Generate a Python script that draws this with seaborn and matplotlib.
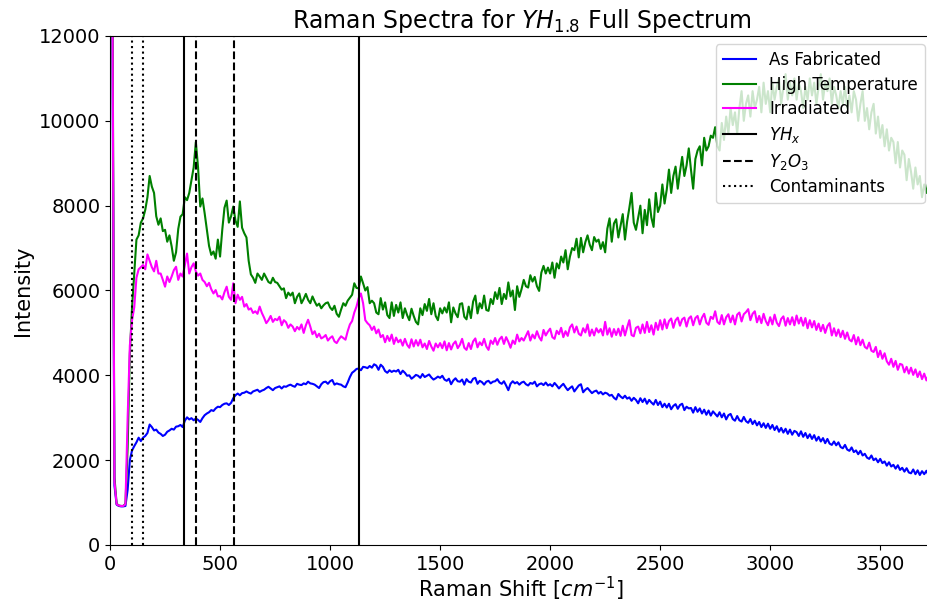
import numpy as np
import pandas as pd
import seaborn as sns
import matplotlib
matplotlib.use("Agg")
import matplotlib.pyplot as plt

# Raman shift grid [cm^-1]
shift = np.arange(0, 3750, 10)

as_fabricated = [
    30000, 13000, 1400, 950, 920, 910, 910, 920, 1300, 2000,
    2230, 2330, 2420, 2530, 2450, 2530, 2570, 2640, 2840, 2780,
    2700, 2720, 2650, 2620, 2570, 2600, 2670, 2700, 2740, 2720,
    2790, 2800, 2830, 2780, 2930, 3010, 2960, 2990, 2940, 2980,
    2950, 2900, 2990, 3060, 3100, 3130, 3180, 3160, 3220, 3260,
    3250, 3300, 3330, 3340, 3300, 3350, 3460, 3530, 3570, 3530,
    3580, 3590, 3620, 3590, 3570, 3620, 3640, 3660, 3610, 3640,
    3660, 3700, 3730, 3690, 3650, 3700, 3720, 3740, 3690, 3740,
    3730, 3760, 3780, 3750, 3730, 3800, 3780, 3770, 3810, 3790,
    3850, 3810, 3800, 3780, 3740, 3700, 3790, 3840, 3850, 3800,
    3860, 3890, 3780, 3810, 3790, 3780, 3740, 3720, 3830, 3960,
    4060, 4100, 4150, 4160, 4120, 4200, 4190, 4170, 4220, 4180,
    4260, 4230, 4130, 4250, 4200, 4100, 4060, 4120, 4080, 4110,
    4090, 4130, 4030, 4110, 4060, 3990, 4000, 3920, 3960, 4010,
    3990, 3940, 4030, 3960, 3990, 4020, 3950, 3900, 3930, 3970,
    3940, 3990, 3900, 3870, 3920, 3790, 3880, 3930, 3860, 3850,
    3900, 3780, 3910, 3850, 3830, 3920, 3940, 3800, 3870, 3840,
    3780, 3850, 3870, 3810, 3850, 3860, 3910, 3830, 3800, 3860,
    3760, 3650, 3800, 3860, 3810, 3840, 3780, 3830, 3850, 3790,
    3760, 3820, 3800, 3850, 3740, 3790, 3810, 3770, 3830, 3760,
    3790, 3740, 3820, 3760, 3690, 3750, 3800, 3720, 3650, 3700,
    3740, 3620, 3690, 3760, 3790, 3600, 3660, 3700, 3640, 3580,
    3620, 3640, 3570, 3610, 3550, 3590, 3570, 3520, 3540, 3470,
    3430, 3560, 3500, 3460, 3520, 3450, 3480, 3400, 3470, 3420,
    3340, 3460, 3370, 3450, 3330, 3420, 3360, 3310, 3420, 3300,
    3380, 3250, 3330, 3240, 3330, 3200, 3280, 3320, 3210, 3300,
    3330, 3180, 3260, 3220, 3230, 3120, 3250, 3140, 3220, 3100,
    3190, 3070, 3170, 3050, 3150, 3090, 3030, 3130, 3010, 3100,
    2960, 3060, 3090, 2970, 2930, 3040, 2940, 2910, 3020, 2920,
    2880, 2970, 2850, 2930, 2820, 2900, 2780, 2870, 2760, 2860,
    2740, 2830, 2710, 2800, 2670, 2760, 2650, 2740, 2620, 2720,
    2600, 2690, 2660, 2570, 2680, 2550, 2640, 2520, 2610, 2500,
    2590, 2460, 2550, 2440, 2520, 2400, 2500, 2390, 2360, 2440,
    2350, 2420, 2310, 2280, 2360, 2250, 2220, 2300, 2190, 2230,
    2140, 2220, 2110, 2150, 2060, 2030, 2110, 2000, 2040, 1950,
    2030, 1930, 1970, 1870, 1950, 1850, 1890, 1800, 1880, 1770,
    1820, 1730, 1810, 1710, 1690, 1780, 1670, 1760, 1650, 1740,
    1670, 1750, 1640, 1720, 1650,
]

high_temperature = [
    30000, 14500, 1600, 970, 930, 920, 920, 970, 2300, 4500,
    5600, 6400, 7200, 7300, 7600, 7700, 7900, 8200, 8700, 8450,
    8300, 7750, 7550, 7700, 7400, 7430, 7150, 7300, 7040, 6700,
    6900, 7450, 7740, 7800, 8200, 8130, 8300, 8600, 8900, 9500,
    8900, 7980, 8170, 7820, 7430, 7050, 6840, 6920, 6750, 7200,
    6800, 7430, 7950, 8120, 7600, 7750, 7980, 7650, 7500, 8100,
    7480, 7350, 7250, 6700, 6380, 6300, 6180, 6400, 6330, 6250,
    6400, 6300, 6200, 6170, 6300, 6200, 6180, 6100, 6020, 6050,
    5820, 5950, 5880, 5950, 5700, 5850, 5930, 5700, 5800, 5920,
    5780, 5700, 5860, 5740, 5640, 5690, 5580, 5650, 5700, 5720,
    5600, 5540, 5640, 5450, 5380, 5550, 5700, 5640, 5760, 5830,
    5900, 6170, 6060, 6050, 6330, 6170, 6000, 6080, 5700, 5760,
    5700, 5480, 5440, 5820, 5550, 5720, 5420, 5350, 5720, 5400,
    5660, 5480, 5720, 5350, 5580, 5420, 5300, 5570, 5400, 5260,
    5200, 5580, 5420, 5680, 5520, 5800, 5440, 5700, 5400, 5300,
    5580, 5460, 5600, 5480, 5720, 5250, 5600, 5460, 5370, 5680,
    5700, 5380, 5320, 5620, 5350, 5740, 5880, 5460, 5700, 5580,
    5880, 5540, 5520, 5800, 5680, 5960, 5800, 6060, 5680, 5920,
    5800, 6190, 5860, 6000, 5540, 6100, 5850, 6030, 6250, 6100,
    6070, 6360, 6210, 6320, 6100, 5990, 6420, 6580, 6400, 6540,
    6400, 6660, 6300, 6640, 6520, 6800, 6660, 6950, 6500, 6800,
    7000, 6950, 7220, 6780, 7240, 6900, 7140, 7300, 7080, 6950,
    7260, 7150, 7200, 6980, 7140, 6900, 7460, 7700, 7150, 7580,
    7680, 7250, 7520, 7800, 7200, 7630, 7950, 8300, 7600, 7430,
    7720, 8000, 7350, 7900, 7540, 8150, 7720, 7500, 8300, 7850,
    8000, 8500, 8050, 8380, 8850, 8300, 8700, 8920, 8400, 8800,
    9150, 8700, 8950, 9350, 8850, 8400, 9100, 9300, 9400, 8950,
    9600, 9300, 9400, 9650, 9600, 9850, 9400, 9300, 9950, 9550,
    10100, 9700, 10300, 9900, 10200, 9700, 10300, 10700, 10000, 10400,
    10600, 10100, 10700, 10300, 10500, 10800, 10200, 10900, 10400, 10700,
    10200, 10900, 10500, 10800, 11000, 10400, 10800, 11100, 10500, 10900,
    10600, 11000, 10500, 10900, 10700, 10300, 10800, 10500, 11000, 10600,
    10900, 10400, 10800, 11100, 10500, 10900, 10700, 11000, 10400, 10800,
    10600, 10300, 10700, 10400, 10800, 10300, 10600, 10200, 10700, 10500,
    10000, 10400, 10700, 10000, 10300, 9800, 10200, 10400, 9700, 10100,
    9600, 9900, 9400, 9800, 9300, 9600, 9500, 9000, 9500, 8900,
    9300, 9200, 8600, 9100, 8800, 8400, 8900, 8500, 8700, 8200,
    8500, 8300, 8600, 8100, 8400,
]

irradiated = [
    30000, 14000, 1500, 960, 930, 920, 920, 960, 3000, 4700,
    5300, 5600, 6300, 6500, 6550, 6600, 6500, 6850, 6700, 6550,
    6450, 6700, 6400, 6400, 6250, 6090, 6330, 6200, 6330, 6480,
    6560, 6250, 6400, 6330, 6600, 6870, 6400, 6550, 6640, 6450,
    6350, 6400, 6250, 6200, 6100, 6180, 6030, 5930, 6010, 5860,
    5870, 5790, 5960, 6090, 5850, 5780, 6170, 5700, 5900, 5780,
    5850, 5620, 5680, 5550, 5580, 5470, 5510, 5450, 5620, 5470,
    5360, 5230, 5300, 5400, 5260, 5330, 5300, 5380, 5180, 5300,
    5250, 5120, 5200, 5150, 5040, 5140, 5080, 5200, 5000, 5180,
    5310, 5150, 4970, 5040, 4900, 4980, 4870, 4900, 4950, 4820,
    4880, 4920, 4800, 4760, 4850, 4920, 4880, 4840, 5040, 5200,
    5280, 5480, 5620, 5820, 5930, 5700, 5300, 5230, 5180, 5070,
    5150, 4990, 5080, 4900, 4950, 4780, 4930, 4810, 4960, 4740,
    4890, 4780, 4840, 4700, 4860, 4720, 4650, 4850, 4680, 4830,
    4700, 4840, 4660, 4750, 4620, 4810, 4680, 4580, 4750, 4660,
    4760, 4640, 4800, 4590, 4760, 4610, 4740, 4800, 4640, 4720,
    4860, 4650, 4600, 4760, 4620, 4800, 4870, 4660, 4780, 4710,
    4860, 4680, 4600, 4820, 4740, 4880, 4720, 4850, 4910, 4740,
    4900, 4790, 4650, 4820, 4740, 4960, 4800, 4880, 4820, 4930,
    5040, 4820, 4960, 4870, 5040, 4900, 4820, 5070, 4940, 5030,
    5100, 4900, 4860, 5050, 4970, 5120, 4900, 5040, 4930, 5130,
    5200, 5010, 5150, 4980, 4940, 5110, 5010, 5200, 4930, 5080,
    4940, 5110, 5010, 5090, 4940, 5260, 4960, 5110, 4910, 5090,
    4950, 5100, 4930, 5170, 4940, 5130, 5300, 4950, 4920, 5120,
    5150, 4990, 5200, 5000, 5260, 5020, 5180, 4960, 5240, 5070,
    5300, 5080, 5320, 5110, 5280, 5340, 5120, 5300, 5360, 5170,
    5320, 5360, 5150, 5340, 5390, 5180, 5350, 5400, 5200, 5360,
    5450, 5240, 5190, 5380, 5330, 5510, 5260, 5210, 5420, 5200,
    5370, 5440, 5250, 5410, 5200, 5430, 5480, 5270, 5440, 5490,
    5560, 5300, 5450, 5510, 5250, 5400, 5230, 5450, 5280, 5180,
    5370, 5200, 5430, 5240, 5160, 5330, 5390, 5170, 5350, 5200,
    5370, 5180, 5410, 5220, 5360, 5170, 5350, 5110, 5300, 5130,
    5280, 5070, 5220, 5040, 5190, 5000, 5160, 5230, 4940, 5110,
    4930, 5080, 4900, 5050, 4860, 5010, 4840, 4800, 4950, 4730,
    4900, 4710, 4840, 4670, 4630, 4770, 4580, 4550, 4670, 4430,
    4580, 4390, 4520, 4330, 4250, 4390, 4200, 4340, 4130, 4270,
    4250, 4070, 4200, 4040, 4180, 4010, 4140, 3960, 4090, 3910,
    4040, 3880, 4010, 3860, 3950,
]

# reference peak positions
yhx_peaks = [338, 1133]
y2o3_peaks = [390, 565]
contaminant_peaks = [100, 150]

series_names = ["As Fabricated", "High Temperature", "Irradiated"]
series_colors = ["blue", "green", "magenta"]

for vals in (as_fabricated, high_temperature, irradiated):
    assert len(vals) == len(shift), len(vals)

df = pd.DataFrame({
    "shift": np.tile(shift, 3),
    "intensity": as_fabricated + high_temperature + irradiated,
    "sample": np.repeat(series_names, len(shift)),
})


def main():
    fig = plt.figure(figsize=(9.27, 6.01), dpi=100)
    ax = fig.add_axes([0.1187, 0.0932, 0.8878, 0.8469])

    for name, color in zip(series_names, series_colors):
        sub = df[df["sample"] == name]
        sns.lineplot(x="shift", y="intensity", data=sub, color=color,
                     linewidth=1.5, label=name, ax=ax)

    for i, p in enumerate(yhx_peaks):
        ax.axvline(p, color="black", linestyle="-", linewidth=1.5,
                   label="$YH_x$" if i == 0 else None)
    for i, p in enumerate(y2o3_peaks):
        ax.axvline(p, color="black", linestyle="--", linewidth=1.5,
                   label="$Y_2O_3$" if i == 0 else None)
    for i, p in enumerate(contaminant_peaks):
        ax.axvline(p, color="black", linestyle=":", linewidth=1.5,
                   label="Contaminants" if i == 0 else None)

    ax.set_xlim(0, 3740)
    ax.set_ylim(0, 12000)
    ax.set_xticks([0, 500, 1000, 1500, 2000, 2500, 3000, 3500])
    ax.set_yticks([0, 2000, 4000, 6000, 8000, 10000, 12000])
    ax.tick_params(labelsize=14)

    ax.set_title("Raman Spectra for $YH_{1.8}$ Full Spectrum", fontsize=17)
    ax.set_xlabel("Raman Shift [$cm^{-1}$]", fontsize=15, labelpad=0.5)
    ax.set_ylabel("Intensity", fontsize=15)

    ax.legend(loc="upper right", fontsize=12, labelspacing=0.4)

    fig.savefig("out.png", dpi=100)


if __name__ == "__main__":
    main()
